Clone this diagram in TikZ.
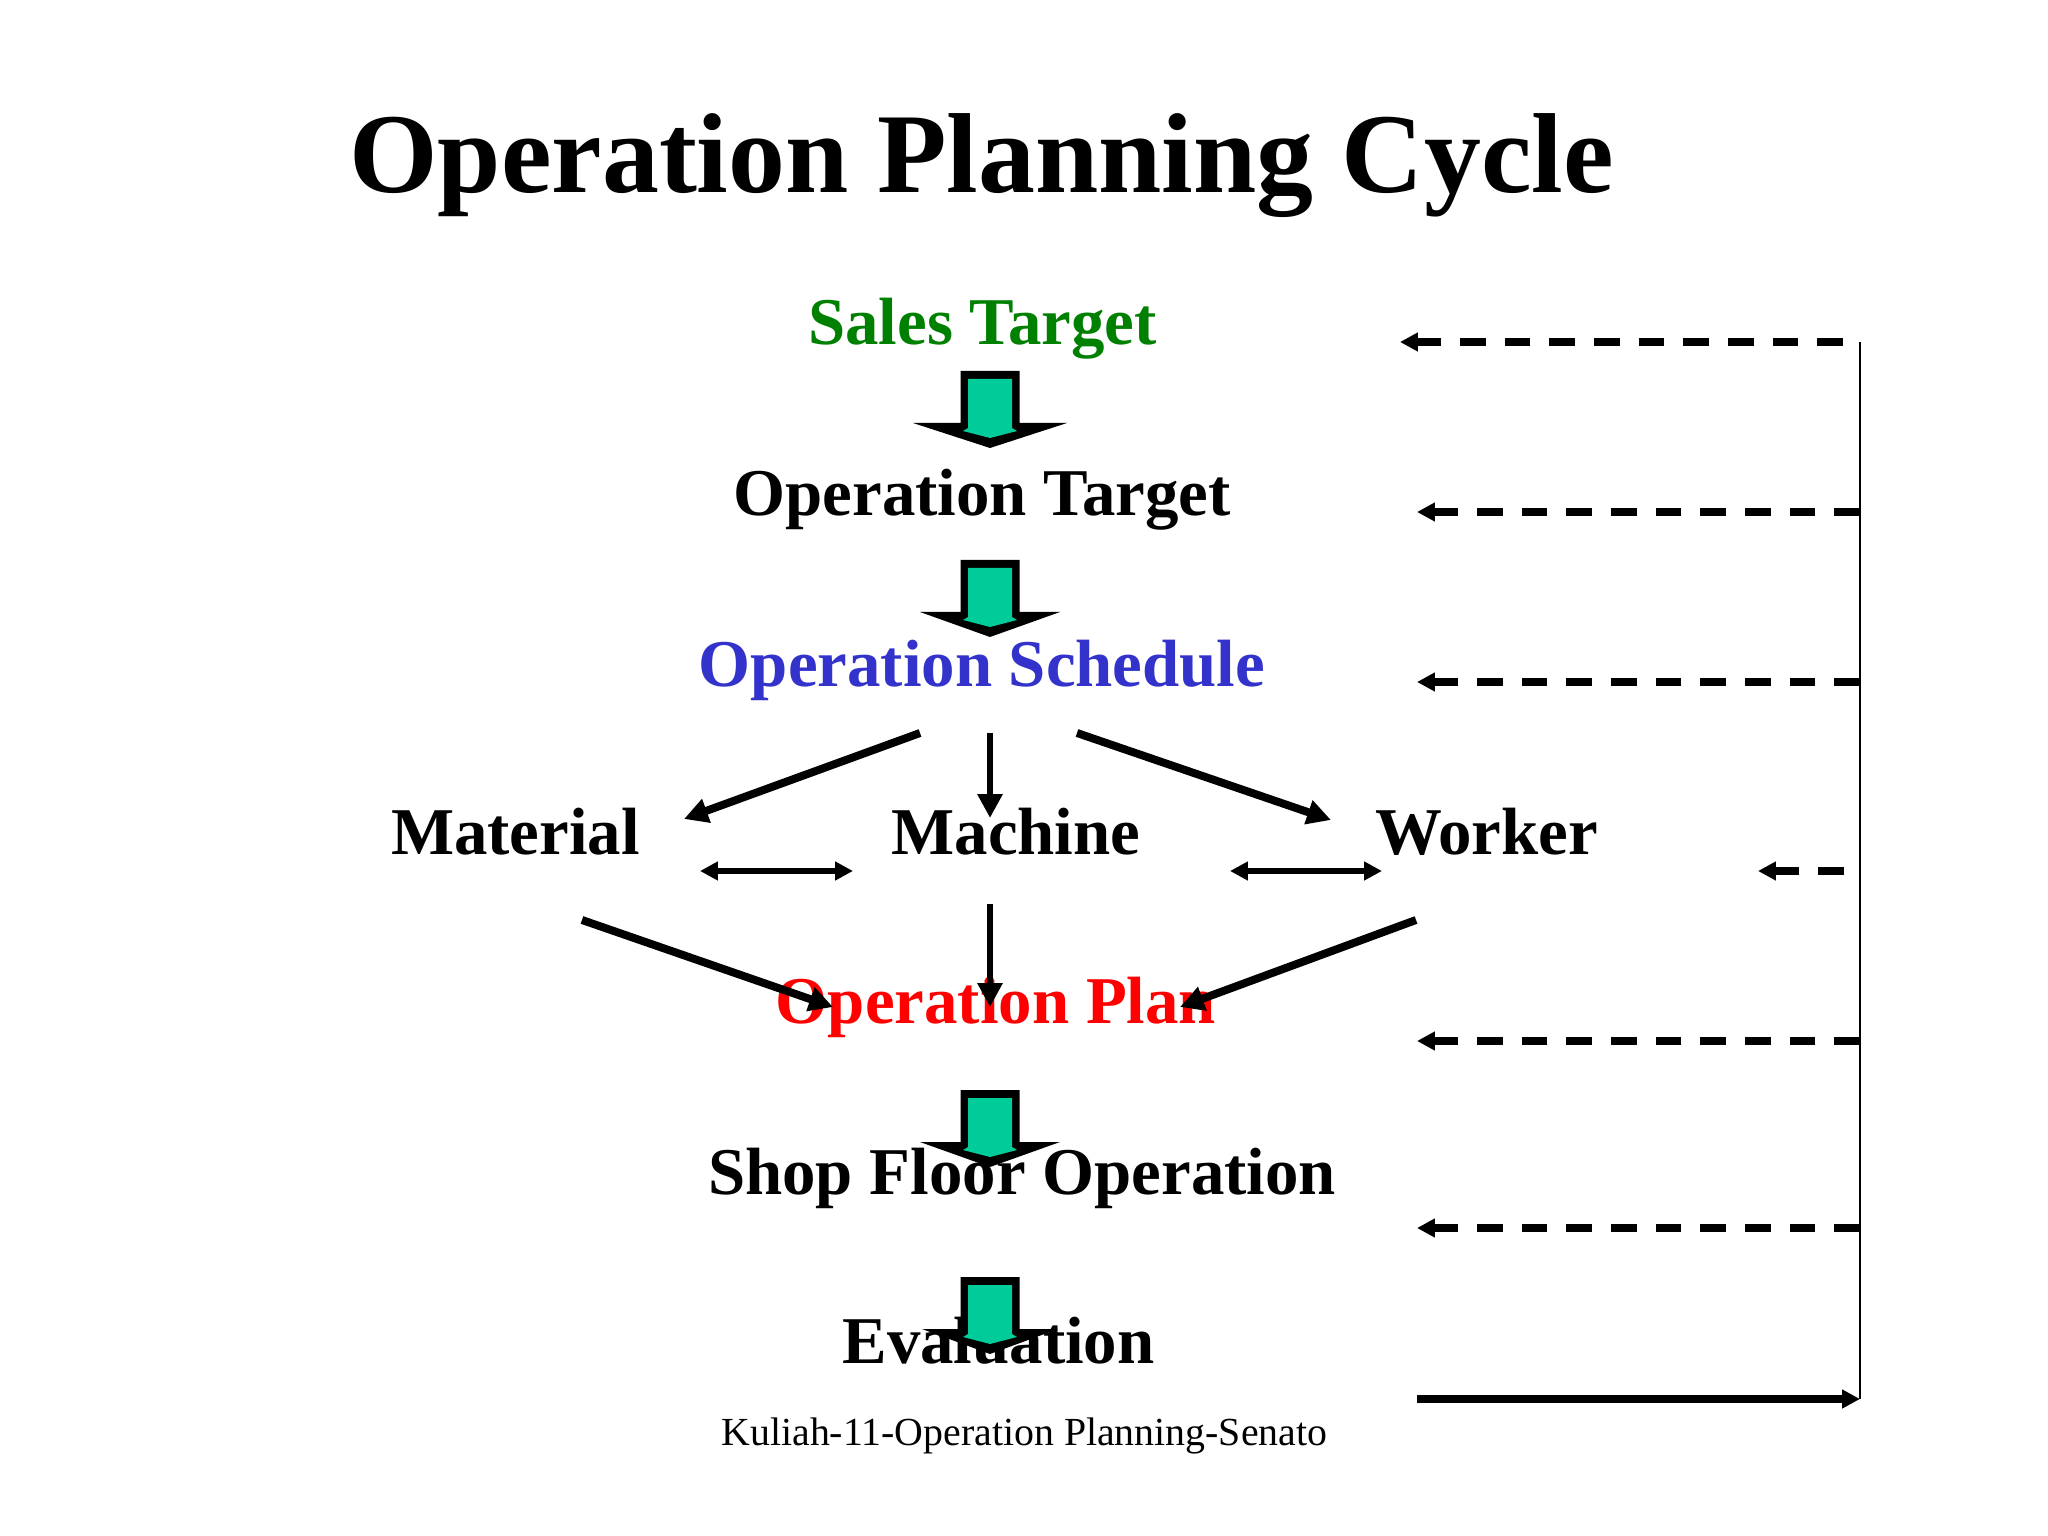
\documentclass[tikz,border=0pt]{standalone}
\usepackage{fontspec}
\setmainfont{Liberation Serif}
\usetikzlibrary{arrows.meta}
\definecolor{tgreen}{RGB}{0,128,0}
\definecolor{tblue}{RGB}{51,51,204}
\definecolor{tred}{RGB}{255,0,0}
\definecolor{blockfill}{RGB}{0,204,153}
\begin{document}
\begin{tikzpicture}[x=0.3515625pt,y=-0.3515625pt,
  lbl/.style={inner sep=0pt,anchor=base,font=\bfseries\fontsize{23.5}{28}\selectfont},
  diag/.style={line width=2.8pt,-{Triangle[length=8.4pt,width=8.4pt]}},
  vert/.style={line width=2.2pt,-{Triangle[length=8.4pt,width=8.4pt]}},
  dbl/.style={line width=1.8pt,{Triangle[length=6.3pt,width=6.3pt]}-{Triangle[length=6.3pt,width=6.3pt]}},
  fb/.style={line width=2.6pt,dash pattern=on 9pt off 6.7pt,-{Triangle[length=6.3pt,width=6.3pt]}},
  fbsolid/.style={line width=2.5pt,-{Triangle[length=6.3pt,width=6.3pt]}},
  blockarr/.pic={
    \fill[black] (-29.5,0) -- (29.5,0) -- (29.5,52) -- (#1,52) -- (0,77) -- (-#1,52) -- (-29.5,52) -- cycle;
    \fill[blockfill] (-22,8) -- (22,8) -- (22,57) -- (27,60) -- (0,67) -- (-27,60) -- (-22,57) -- cycle;
  }]
\fill[white] (0,0) rectangle (2048,1536);
\useasboundingbox (0,0) rectangle (2048,1536);

% texts
\node[inner sep=0pt,anchor=base,font=\bfseries\fontsize{40}{46}\selectfont] (title) at (981.5,193) {Operation Planning Cycle};
\node[lbl,text=tgreen] (sales) at (982.5,345) {Sales Target};
\node[lbl] (optarget) at (982,516) {Operation Target};
\node[lbl,text=tblue] (sched) at (982,686) {Operation Schedule};
\node[lbl] (material) at (515.5,854) {Material};
\node[lbl] (machine) at (1016,854) {Machine};
\node[lbl] (worker) at (1486.5,854) {Worker};
\node[lbl,text=tred] (plan) at (996,1023) {Operation Plan};
\node[lbl] (shop) at (1022,1194) {Shop Floor Operation};
\node[lbl] (eval) at (998.5,1363) {Evaluation};
\node[inner sep=0pt,anchor=base west,font=\fontsize{14}{16}\selectfont] (caption) at (721,1445) {Kuliah-11-Operation Planning-Senato};

% block arrows
\pic at (990,371) {blockarr=77};
\pic at (990,560) {blockarr=70};
\pic at (990,1090) {blockarr=70};
\pic at (990,1277) {blockarr=68};

% connector end points
\coordinate (sA) at (920,733);
\coordinate (sB) at (990,733);
\coordinate (sC) at (1077,733);
\coordinate (matT) at (684,819);
\coordinate (macT) at (990,818);
\coordinate (wkT) at (1331,820);
\coordinate (matB) at (582,920);
\coordinate (macB) at (990,904);
\coordinate (wkB) at (1416,920);
\coordinate (pA) at (833,1007);
\coordinate (pB) at (990,1007);
\coordinate (pC) at (1180,1007);
\coordinate (d1a) at (700,871);
\coordinate (d1b) at (853,871);
\coordinate (d2a) at (1230,871);
\coordinate (d2b) at (1382,871);

\draw[diag] (sA) -- (matT);
\draw[vert] (sB) -- (macT);
\draw[diag] (sC) -- (wkT);
\draw[diag] (matB) -- (pA);
\draw[vert] (macB) -- (pB);
\draw[diag] (wkB) -- (pC);
\draw[dbl] (d1a) -- (d1b);
\draw[dbl] (d2a) -- (d2b);

% feedback loop
\coordinate (vtop) at (1860,342);
\coordinate (vbot) at (1860,1399);
\draw[line width=0.9pt] (vtop) -- (vbot);
\coordinate (r1s) at (1843,342);  \coordinate (r1e) at (1400,342);
\coordinate (r2s) at (1860,512);  \coordinate (r2e) at (1417,512);
\coordinate (r3s) at (1860,682);  \coordinate (r3e) at (1417,682);
\coordinate (r4s) at (1844,871);  \coordinate (r4e) at (1758,871);
\coordinate (r5s) at (1860,1041); \coordinate (r5e) at (1417,1041);
\coordinate (r6s) at (1860,1228); \coordinate (r6e) at (1417,1228);
\coordinate (r7s) at (1417,1399);
\draw[fb] (r1s) -- (r1e);
\draw[fb] (r2s) -- (r2e);
\draw[fb] (r3s) -- (r3e);
\draw[fb] (r4s) -- (r4e);
\draw[fb] (r5s) -- (r5e);
\draw[fb] (r6s) -- (r6e);
\draw[fbsolid] (r7s) -- (vbot);
\end{tikzpicture}
\end{document}
